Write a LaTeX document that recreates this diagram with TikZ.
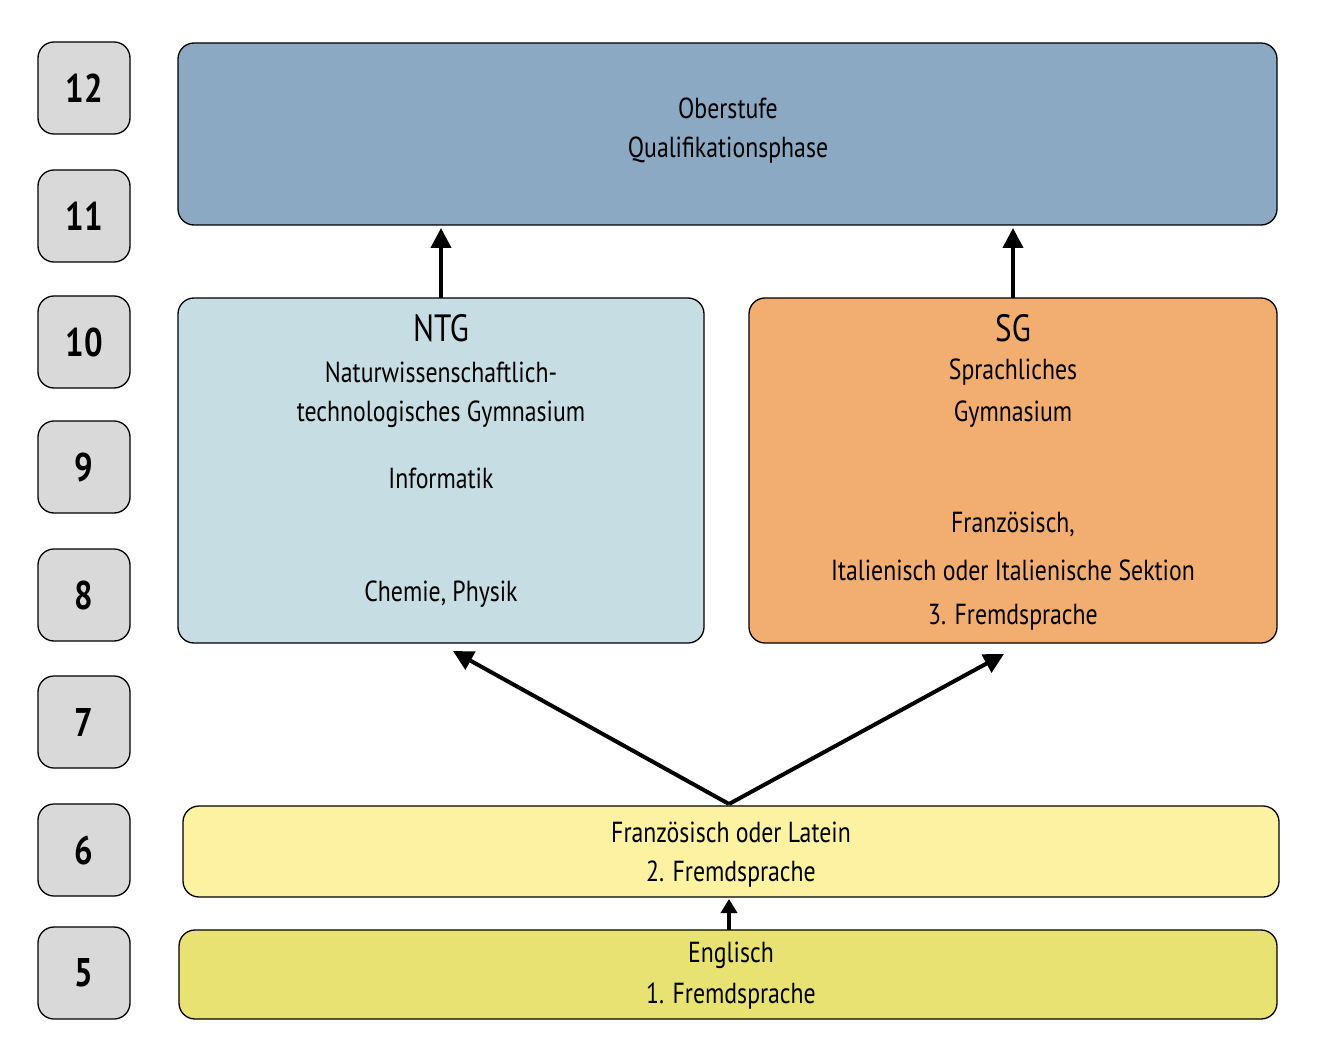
\documentclass[tikz,border=0pt]{standalone}
\usepackage{fontspec}
\setmainfont{PT Sans}[FakeStretch=0.82]
\usetikzlibrary{arrows.meta}
\definecolor{ober}{HTML}{8BA9C3}
\definecolor{ntg}{HTML}{C5DDE3}
\definecolor{sg}{HTML}{F2AE71}
\definecolor{fs2}{HTML}{FDF2A1}
\definecolor{fs1}{HTML}{E7E272}
\definecolor{grade}{HTML}{D9D9DA}
\begin{document}
\begin{tikzpicture}[x=1pt,y=-1pt,
  box/.style={draw=black,line width=1.3pt,rounded corners=16pt},
  gr/.style={box,fill=grade,minimum width=92pt,minimum height=92pt,font=\fontsize{40}{40}\selectfont\bfseries,inner sep=0pt},
  txt/.style={font=\fontsize{29}{29}\selectfont,anchor=center},
  arr/.style={line width=4pt,-{Triangle[length=20pt,width=20pt]}}]
\useasboundingbox (0,0) rectangle (1320,1059);
\foreach \g/\y in {12/88,11/216,10/342,9/467,8/595,7/722,6/850,5/973}
  \node[gr] (g\g) at (84,\y) {\g};
\draw[box,fill=ober] (178,43) rectangle (1277,225);
\draw[box,fill=ntg] (178,298) rectangle (704,643);
\draw[box,fill=sg] (749,298) rectangle (1277,643);
\draw[box,fill=fs2] (183,806) rectangle (1279,897);
\draw[box,fill=fs1] (179,930) rectangle (1277,1019);
\node[txt] (o1) at (728,108) {Oberstufe};
\node[txt] (o2) at (728,150) {Qualifikationsphase};
\node[txt,font=\fontsize{38}{38}\selectfont] (n0) at (441,328) {NTG};
\node[txt] (n1) at (441,372) {Naturwissenschaftlich-};
\node[txt] (n2) at (441,414) {technologisches Gymnasium};
\node[txt] (n3) at (441,478) {Informatik};
\node[txt] (n4) at (441,594) {Chemie, Physik};
\node[txt,font=\fontsize{38}{38}\selectfont] (s0) at (1013,328) {SG};
\node[txt] (s1) at (1013,372) {Sprachliches};
\node[txt] (s2) at (1013,414) {Gymnasium};
\node[txt] (s3) at (1013,524) {Französisch,};
\node[txt] (s4) at (1013,570) {Italienisch oder Italienische Sektion};
\node[txt] (s5) at (1013,617) {3. Fremdsprache};
\node[txt] (f1) at (731,832) {Französisch oder Latein};
\node[txt] (f2) at (731,874) {2. Fremdsprache};
\node[txt] (e1) at (731,955) {Englisch};
\node[txt] (e2) at (731,996) {1. Fremdsprache};
\coordinate (a1) at (441,298); \coordinate (a1e) at (441,228);
\coordinate (a2) at (1013,298); \coordinate (a2e) at (1013,228);
\coordinate (b) at (729,804); \coordinate (bl) at (453,651); \coordinate (br) at (1004,654);
\coordinate (c) at (729,930); \coordinate (ce) at (729,899);
\draw[arr] (a1) -- (a1e);
\draw[arr] (a2) -- (a2e);
\draw[arr] (b) -- (bl);
\draw[arr] (b) -- (br);
\draw[arr,-{Triangle[length=14pt,width=16pt]}] (c) -- (ce);
\end{tikzpicture}
\end{document}
